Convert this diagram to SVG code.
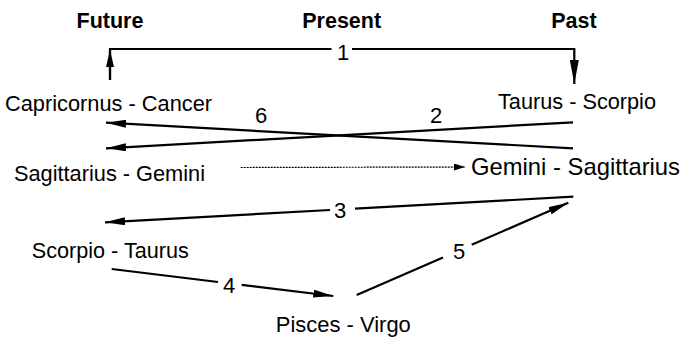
<svg xmlns="http://www.w3.org/2000/svg" width="683" height="340" viewBox="0 0 683 340">
<style>
text{font-family:"Liberation Sans",Arial,sans-serif;fill:#000}
.hd{font-weight:bold;font-size:21.5px;text-anchor:middle}
.nd{font-size:22.5px;text-anchor:middle}
.lb{font-size:22px;text-anchor:middle}
.ln{fill:none;stroke:#000;stroke-width:2.2}
.dt{fill:none;stroke:#000;stroke-width:1.2;stroke-dasharray:2 1}
</style>
<defs>
<marker id="ah" markerUnits="userSpaceOnUse" markerWidth="20" markerHeight="8" refX="20" refY="4" orient="auto" viewBox="0 0 20 8"><path d="M0,0 L20,4 L0,8 Z" fill="#000"/></marker>
<marker id="ahu" markerUnits="userSpaceOnUse" markerWidth="17" markerHeight="8" refX="17" refY="4" orient="auto" viewBox="0 0 17 8"><path d="M0,0 L17,4 L0,8 Z" fill="#000"/></marker>
<marker id="ahl" markerUnits="userSpaceOnUse" markerWidth="24" markerHeight="9" refX="24" refY="4.5" orient="auto" viewBox="0 0 24 9"><path d="M0,0 L24,4.5 L0,9 Z" fill="#000"/></marker>
<marker id="ahs" markerUnits="userSpaceOnUse" markerWidth="11" markerHeight="7" refX="11" refY="3.5" orient="auto" viewBox="0 0 11 7"><path d="M0,0 L11,3.5 L0,7 Z" fill="#000"/></marker>
</defs>
<g id="headers">
<text class="hd" x="110" y="27.7">Future</text>
<text class="hd" x="341.7" y="27.7">Present</text>
<text class="hd" x="574" y="27.7">Past</text>
</g>
<g id="connectors">
<path class="ln" d="M110,80 V49 H331.5"/>
<path class="ln" d="M110,80 V50" marker-end="url(#ahu)"/>
<path class="ln" d="M352,49 H574.3 V84" marker-end="url(#ahl)"/>
<text class="lb" x="343" y="60">1</text>
<path class="ln" d="M573,148.3 L106,122.7" marker-end="url(#ah)"/>
<text class="lb" x="261" y="123.3">6</text>
<path class="ln" d="M573,122.3 L106,148.3" marker-end="url(#ah)"/>
<text class="lb" x="436" y="123.3">2</text>
<path class="dt" d="M240.7,167.5 L465,167" marker-end="url(#ahs)"/>
<path class="ln" d="M573.3,196.7 L355,208.6"/>
<path class="ln" d="M330,210 L105,222.3" marker-end="url(#ah)"/>
<text class="lb" x="340" y="218.3">3</text>
<path class="ln" d="M111.7,269 L218,282"/>
<path class="ln" d="M241.7,284.8 L333.3,296" marker-end="url(#ah)"/>
<text class="lb" x="229" y="292.7">4</text>
<path class="ln" d="M356.7,295 L443,257.4"/>
<path class="ln" d="M471.7,244.8 L568.3,202.7" marker-end="url(#ah)"/>
<text class="lb" x="459" y="259">5</text>
</g>
<g id="capricornus-cancer"><text class="nd" x="108.5" y="111" textLength="207" lengthAdjust="spacingAndGlyphs">Capricornus - Cancer</text></g>
<g id="sagittarius-gemini"><text class="nd" x="109.5" y="181" textLength="191" lengthAdjust="spacingAndGlyphs">Sagittarius - Gemini</text></g>
<g id="taurus-scorpio"><text class="nd" x="577" y="109" textLength="158" lengthAdjust="spacingAndGlyphs">Taurus - Scorpio</text></g>
<g id="gemini-sagittarius"><text class="nd" x="575.5" y="175" style="font-size:24px" textLength="209" lengthAdjust="spacingAndGlyphs">Gemini - Sagittarius</text></g>
<g id="scorpio-taurus"><text class="nd" x="110.3" y="258.3" textLength="157" lengthAdjust="spacingAndGlyphs">Scorpio - Taurus</text></g>
<g id="pisces-virgo"><text class="nd" x="343.3" y="331.7" textLength="135" lengthAdjust="spacingAndGlyphs">Pisces - Virgo</text></g>
</svg>
